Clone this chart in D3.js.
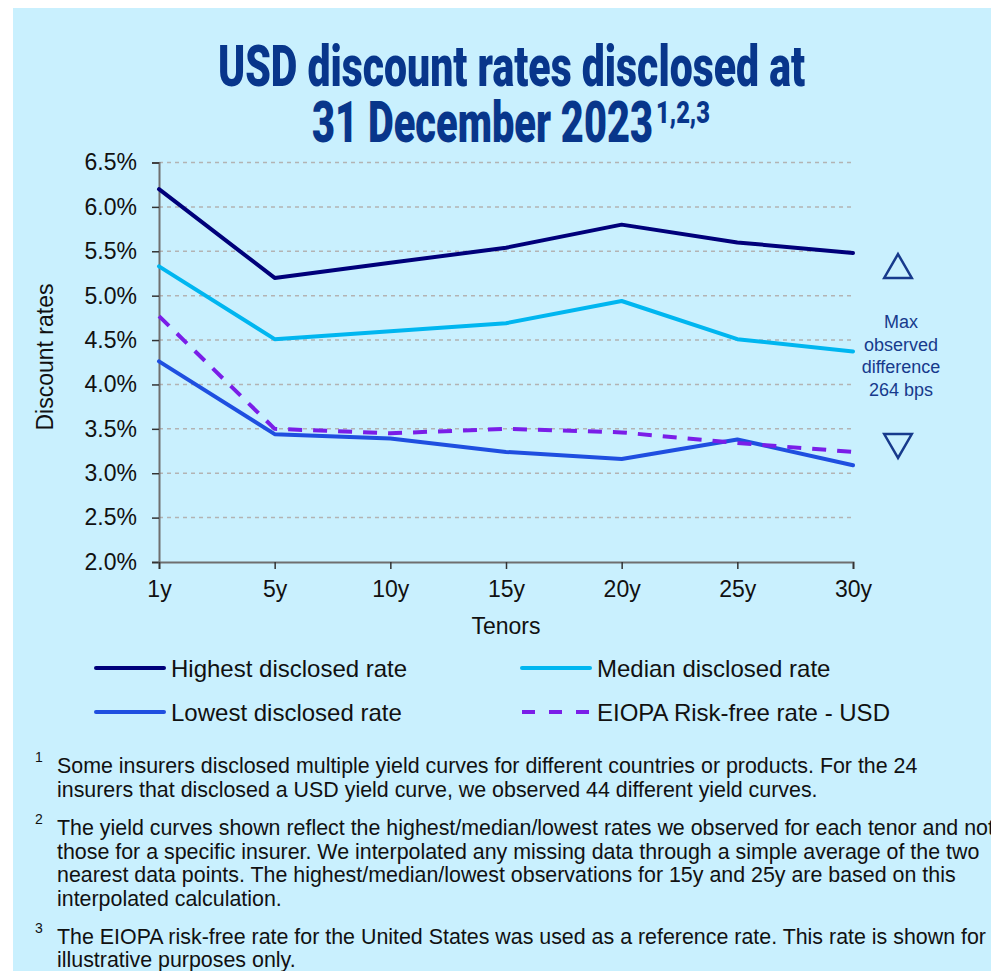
<!DOCTYPE html>
<html>
<head>
<meta charset="utf-8">
<script src="https://cdnjs.cloudflare.com/ajax/libs/d3/7.8.5/d3.min.js"></script>
<style>
  body { margin: 0; background: #fff; }
  svg { display: block; font-family: "Liberation Sans", Arial, sans-serif; }
</style>
</head>
<body>
<div id="chart"><svg></svg></div>
<script>
var tenors = ["1y", "5y", "10y", "15y", "20y", "25y", "30y"];
var highest = [6.20, 5.20, 5.37, 5.54, 5.80, 5.60, 5.48];
var median = [5.33, 4.51, 4.60, 4.69, 4.94, 4.51, 4.37];
var lowest = [4.26, 3.44, 3.39, 3.24, 3.16, 3.38, 3.09];
var eiopa = [4.77, 3.50, 3.45, 3.50, 3.46, 3.34, 3.24];
var yTicks = [2.0, 2.5, 3.0, 3.5, 4.0, 4.5, 5.0, 5.5, 6.0, 6.5];
var seriesNames = ["Highest disclosed rate", "Median disclosed rate", "Lowest disclosed rate", "EIOPA Risk-free rate - USD"];
var noteText = ["Max", "observed", "difference", "264 bps"];
var footnotes = [
  ["Some insurers disclosed multiple yield curves for different countries or products. For the 24",
   "insurers that disclosed a USD yield curve, we observed 44 different yield curves."],
  ["The yield curves shown reflect the highest/median/lowest rates we observed for each tenor and not",
   "those for a specific insurer. We interpolated any missing data through a simple average of the two",
   "nearest data points. The highest/median/lowest observations for 15y and 25y are based on this",
   "interpolated calculation."],
  ["The EIOPA risk-free rate for the United States was used as a reference rate. This rate is shown for",
   "illustrative purposes only."]
];

var series = [
  { name: seriesNames[0], values: highest, color: "#00007a", dash: null },
  { name: seriesNames[1], values: median, color: "#00b6f0", dash: null },
  { name: seriesNames[2], values: lowest, color: "#1f4fe0", dash: null },
  { name: seriesNames[3], values: eiopa, color: "#7a1ee8", dash: "14,11" }
];

var W = 991, H = 971;
var svg = d3.select("#chart svg").
  attr("width", W).
  attr("height", H);

svg.append("rect").
  attr("x", 13).attr("y", 8).
  attr("width", W - 13).attr("height", H - 8).
  attr("fill", "#c9f0fe");

// title, squeezed to look condensed
var titleColor = "#08368b";
svg.append("text").
  attr("x", 218).attr("y", 86).
  attr("font-family", "Roboto, sans-serif").
  attr("font-weight", 900).
  attr("font-size", 57).
  attr("fill", titleColor).
  attr("textLength", 587).
  attr("lengthAdjust", "spacingAndGlyphs").
  text("USD discount rates disclosed at");
svg.append("text").
  attr("x", 312).attr("y", 142).
  attr("font-family", "Roboto, sans-serif").
  attr("font-weight", 900).
  attr("font-size", 57).
  attr("fill", titleColor).
  attr("textLength", 341).
  attr("lengthAdjust", "spacingAndGlyphs").
  text("31 December 2023");
svg.append("text").
  attr("x", 656).attr("y", 123).
  attr("font-family", "Roboto, sans-serif").
  attr("font-weight", 900).
  attr("font-size", 32).
  attr("fill", titleColor).
  attr("textLength", 54).
  attr("lengthAdjust", "spacingAndGlyphs").
  text("1,2,3");

var xScale = d3.scalePoint().
  domain(tenors).
  range([159, 853]);

var yScale = d3.scaleLinear().
  domain([2, 6.5]).
  range([562, 162.5]);

// gridlines
svg.append("g").
  selectAll("line").
  data(yTicks.slice(1)).
  join("line").
  attr("x1", 159).attr("x2", 853).
  attr("y1", function(d) { return yScale(d); }).
  attr("y2", function(d) { return yScale(d); }).
  attr("stroke", "#b3b3b3").
  attr("stroke-width", 1.5).
  attr("stroke-dasharray", "4,4");

var yAxis = d3.axisLeft(yScale).
  tickValues(yTicks).
  tickSize(7).
  tickPadding(15).
  tickFormat(function(d) { return d3.format(".1f")(d) + "%"; });

var gY = svg.append("g").
  attr("transform", "translate(159,0)").
  call(yAxis);

var xAxis = d3.axisBottom(xScale).
  tickSize(7).
  tickPadding(10);

var gX = svg.append("g").
  attr("transform", "translate(0,562)").
  call(xAxis);

[gY, gX].forEach(function(g) {
  g.select(".domain").attr("stroke", "#6f6f6f").attr("stroke-width", 2);
  g.selectAll(".tick line").attr("stroke", "#333").attr("stroke-width", 1.5);
  g.selectAll(".tick text").
    attr("font-family", "Liberation Sans, Arial, sans-serif").
    attr("font-size", 23).
    attr("fill", "#111");
});
gX.selectAll(".tick text").attr("dy", "0.78em");

svg.append("text").
  attr("transform", "translate(53,357) rotate(-90)").
  attr("text-anchor", "middle").
  attr("font-size", 23).
  attr("fill", "#111").
  text("Discount rates");

svg.append("text").
  attr("x", 506).attr("y", 634).
  attr("text-anchor", "middle").
  attr("font-size", 23).
  attr("fill", "#111").
  text("Tenors");

var line = d3.line().
  x(function(d, i) { return xScale(tenors[i]); }).
  y(function(d) { return yScale(d); });

svg.append("g").
  selectAll("path").
  data(series).
  join("path").
  attr("d", function(s) { return line(s.values); }).
  attr("fill", "none").
  attr("stroke", function(s) { return s.color; }).
  attr("stroke-width", 4).
  attr("stroke-linejoin", "round").
  attr("stroke-linecap", function(s) { return s.dash ? "butt" : "round"; }).
  attr("stroke-dasharray", function(s) { return s.dash; });

// annotation on the right
var noteColor = "#173a8c";
var tri = d3.symbol().type(d3.symbolTriangle).size(330);
svg.append("path").
  attr("d", tri).
  attr("transform", "translate(898,270)").
  attr("fill", "none").
  attr("stroke", noteColor).
  attr("stroke-width", 2.5);
svg.append("path").
  attr("d", tri).
  attr("transform", "translate(898,442) rotate(180)").
  attr("fill", "none").
  attr("stroke", noteColor).
  attr("stroke-width", 2.5);

svg.append("g").
  selectAll("text").
  data(noteText).
  join("text").
  attr("x", 901).
  attr("y", function(d, i) { return 328 + i * 22.7; }).
  attr("text-anchor", "middle").
  attr("font-size", 18).
  attr("fill", noteColor).
  text(function(d) { return d; });

// legend
var legendPos = [[96, 668], [522, 668], [96, 712], [522, 712]];
var legend = svg.append("g").
  selectAll("g").
  data(series).
  join("g").
  attr("transform", function(s, i) { return "translate(" + legendPos[i][0] + "," + legendPos[i][1] + ")"; });

legend.append("line").
  attr("x1", 0).attr("x2", 68).
  attr("stroke", function(s) { return s.color; }).
  attr("stroke-width", 4).
  attr("stroke-linecap", function(s) { return s.dash ? "butt" : "round"; }).
  attr("stroke-dasharray", function(s) { return s.dash ? "13,14" : null; });

legend.append("text").
  attr("x", 75).attr("y", 8.5).
  attr("font-size", 24).
  attr("fill", "#111").
  text(function(s) { return s.name; });

// footnotes
var noteStarts = [773, 835, 943.5];
footnotes.forEach(function(lines, k) {
  svg.append("text").
    attr("x", 35).attr("y", noteStarts[k] - 11).
    attr("font-size", 14).
    attr("fill", "#111").
    text(k + 1);
  svg.append("g").
    selectAll("text").
    data(lines).
    join("text").
    attr("x", 57).
    attr("y", function(d, i) { return noteStarts[k] + i * 23.5; }).
    attr("font-size", 21.4).
    attr("fill", "#111").
    text(function(d) { return d; });
});
</script>
</body>
</html>
